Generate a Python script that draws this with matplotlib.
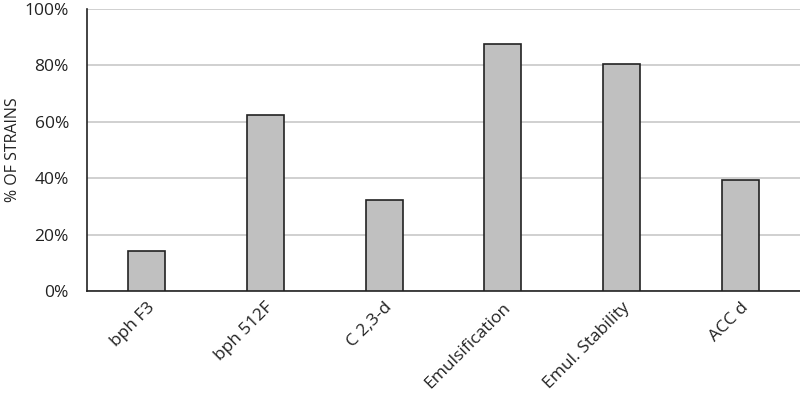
import matplotlib.pyplot as plt
from matplotlib.ticker import PercentFormatter

categorias = ['bph F3', 'bph 512F', 'C 2,3-d', 'Emulsification', 'Emul. Stability', 'ACC d']
valores = [14.3, 62.3, 32.2, 87.4, 80.4, 39.3]

plt.rcParams['font.family'] = ['Open Sans', 'DejaVu Sans']

fig = plt.figure(figsize=(8, 3.98), dpi=100)
ax = fig.add_axes([0.10875, 0.2688, 0.89125, 0.7098])

ax.bar(range(len(categorias)), valores, width=0.31, color='#c0c0c0',
       edgecolor='#222222', linewidth=1.2, zorder=3)

ax.set_xlim(-0.5, len(categorias) - 0.5)
ax.set_ylim(0, 100)
ax.set_yticks([0, 20, 40, 60, 80, 100])
ax.yaxis.set_major_formatter(PercentFormatter(decimals=0))
ax.grid(axis='y', color='#c8c8c8', linewidth=1.2, zorder=0)

ax.set_xticks(range(len(categorias)))
ax.set_xticklabels(categorias, rotation=45, ha='right', rotation_mode='anchor')
ax.tick_params(axis='both', length=0, labelsize=12.5, colors='#222222')
ax.tick_params(axis='y', pad=13)
ax.tick_params(axis='x', pad=6)

for s in ['top', 'right']:
    ax.spines[s].set_visible(False)
for s in ['left', 'bottom']:
    ax.spines[s].set_color('#222222')
    ax.spines[s].set_linewidth(1.2)

ax.set_ylabel('% OF STRAINS', fontsize=11.5, color='#222222')
ax.yaxis.set_label_coords(13 / 800, 0.623, transform=fig.transFigure)
ax.yaxis.label.set_va('center')

fig.savefig('out.png', dpi=100)
